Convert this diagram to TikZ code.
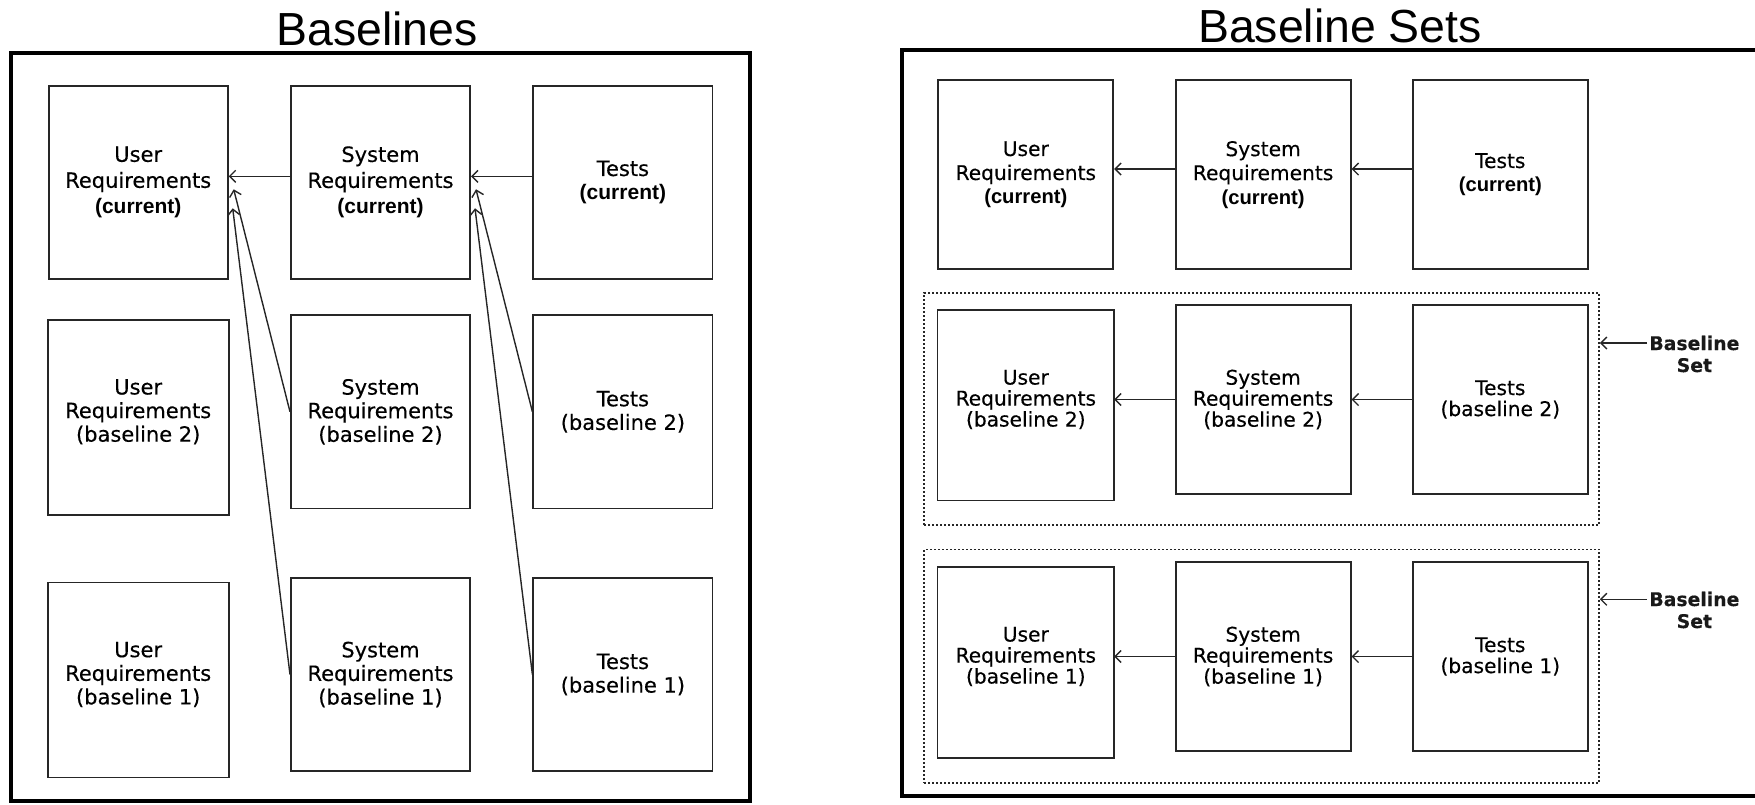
\documentclass[tikz,border=0pt]{standalone}
\usepackage{fontspec}
\setmainfont{DejaVu Sans}[FakeBold=0.35]
\newfontfamily\titlefont{Liberation Sans}
\newfontfamily\curfont{Liberation Sans}
\usetikzlibrary{arrows.meta,calc}
\newcommand\curtxt{{\curfont\bfseries (current)}}
\begin{document}
\begin{tikzpicture}[x=0.5pt,y=-0.5pt,
  box/.style={draw=black!85, line width=0.9pt, inner sep=0pt, align=center, text=black},
  lbox/.style={box, minimum width=89.6pt, minimum height=96.6pt, font=\fontsize{10.5}{11.8}\selectfont},
  lboxc/.style={lbox, font=\fontsize{10.5}{13}\selectfont},
  rbox/.style={box, minimum width=87.5pt, minimum height=94.5pt, font=\fontsize{10.1}{10.5}\selectfont},
  rboxc/.style={rbox, font=\fontsize{10.1}{12}\selectfont},
  border/.style={draw=black!85, line width=0.9pt},
  arr/.style={draw=black!85, line width=0.7pt, -{Straight Barb[length=3pt,width=6pt]}},
  frame/.style={line width=2pt, draw=black},
  setbox/.style={draw=black!85, line width=0.8pt, dash pattern=on 1pt off 1pt, inner sep=0pt},
  lab/.style={font=\bfseries\fontsize{9.4}{11}\selectfont, align=center, inner sep=0pt, text=black!90},
  title/.style={font=\titlefont\fontsize{23.2}{28}\selectfont, inner sep=0pt}
]
\clip (0,0) rectangle (1755,804);
\useasboundingbox (0,0) rectangle (1755,804);

% frames
\draw[frame] (11,53) rectangle (750,801);
\draw[frame] (1800,50) -- (902,50) -- (902,796) -- (1800,796);

% titles
\node[title, anchor=base] (t1) at (377,45) {Baselines};
\node[title, anchor=base] (t2) at (1340,42) {Baseline Sets};

% ---- left panel ----
\node[lboxc] (lu1) at (138.2,182.3) {User\\Requirements\\\curtxt};
\node[lboxc] (ls1) at (380.5,182.3) {System\\Requirements\\\curtxt};
\node[lbox] (lt1) at (622.9,182.3) {Tests\\\curtxt};

\node[lbox, draw=none] (lu2) at (138.2,411.8) {User\\Requirements\\(baseline 2)};
\draw[border] ($(lu2.north west)+(0,5.7)$) rectangle ($(lu2.south east)+(0,5.7)$);
\node[lbox] (ls2) at (380.5,411.8) {System\\Requirements\\(baseline 2)};
\node[lbox] (lt2) at (622.9,411.8) {Tests\\(baseline 2)};

\node[lbox, draw=none] (lu3) at (138.2,674.5) {User\\Requirements\\(baseline 1)};
\draw[border] ($(lu3.north west)+(0,5.5)$) rectangle ($(lu3.south east)+(0,5.5)$);
\node[lbox] (ls3) at (380.5,674.5) {System\\Requirements\\(baseline 1)};
\node[lbox] (lt3) at (622.9,674.5) {Tests\\(baseline 1)};

\draw[arr] ([yshift=3pt]ls1.west) -- ([yshift=3pt]ls1.west -| lu1.east);
\draw[arr] ([yshift=3pt]lt1.west) -- ([yshift=3pt]lt1.west -| ls1.east);

\coordinate (tipA) at ($(lu1.east)+(5,7)$);
\coordinate (tipB) at ($(lu1.east)+(4,26)$);
\coordinate (tipC) at ($(ls1.east)+(5,7)$);
\coordinate (tipD) at ($(ls1.east)+(4,26)$);
\draw[arr] (ls2.west) -- (tipA);
\draw[arr] (ls3.west) -- (tipB);
\draw[arr] (lt2.west) -- (tipC);
\draw[arr] (lt3.west) -- (tipD);

% ---- right panel ----
\node[rboxc] (ru1) at (1025.8,174.7) {User\\Requirements\\\curtxt};
\node[rboxc] (rs1) at (1263.1,174.7) {System\\Requirements\\\curtxt};
\node[rboxc] (rt1) at (1500.3,174.7) {Tests\\\curtxt};

\node[setbox, minimum width=337.5pt, minimum height=116pt] (set1) at (1261.5,409) {};
\node[rbox, draw=none] (ru2) at (1025.8,399.5) {User\\Requirements\\(baseline 2)};
\draw[border] ($(ru2.north west)+(0,5.5)$) rectangle ($(ru2.south east)+(0,5.5)$);
\node[rbox] (rs2) at (1263.1,399.5) {System\\Requirements\\(baseline 2)};
\node[rbox] (rt2) at (1500.3,399.5) {Tests\\(baseline 2)};

\node[setbox, minimum width=337.5pt, minimum height=116.8pt] (set2) at (1261.5,666.2) {};
\node[rbox, draw=none] (ru3) at (1025.8,656.5) {User\\Requirements\\(baseline 1)};
\draw[border] ($(ru3.north west)+(0,5.8)$) rectangle ($(ru3.south east)+(0,5.8)$);
\node[rbox] (rs3) at (1263.1,656.5) {System\\Requirements\\(baseline 1)};
\node[rbox] (rt3) at (1500.3,656.5) {Tests\\(baseline 1)};

\draw[arr] ([yshift=2.85pt]rs1.west) -- ([yshift=2.85pt]rs1.west -| ru1.east);
\draw[arr] ([yshift=2.85pt]rt1.west) -- ([yshift=2.85pt]rt1.west -| rs1.east);
\draw[arr] (rs2.west) -- (rs2.west -| ru2.east);
\draw[arr] (rt2.west) -- (rt2.west -| rs2.east);
\draw[arr] (rs3.west) -- (rs3.west -| ru3.east);
\draw[arr] (rt3.west) -- (rt3.west -| rs3.east);

% labels
\node[lab, anchor=west] (lab1) at (1649,354) {Baseline\\Set};
\node[lab, anchor=west] (lab2) at (1649,610) {Baseline\\Set};
\coordinate (a1) at (1647,343);
\coordinate (a2) at (1647,599.3);
\draw[arr] (a1) -- (a1 -| set1.east);
\draw[arr] (a2) -- (a2 -| set2.east);
\end{tikzpicture}
\end{document}
